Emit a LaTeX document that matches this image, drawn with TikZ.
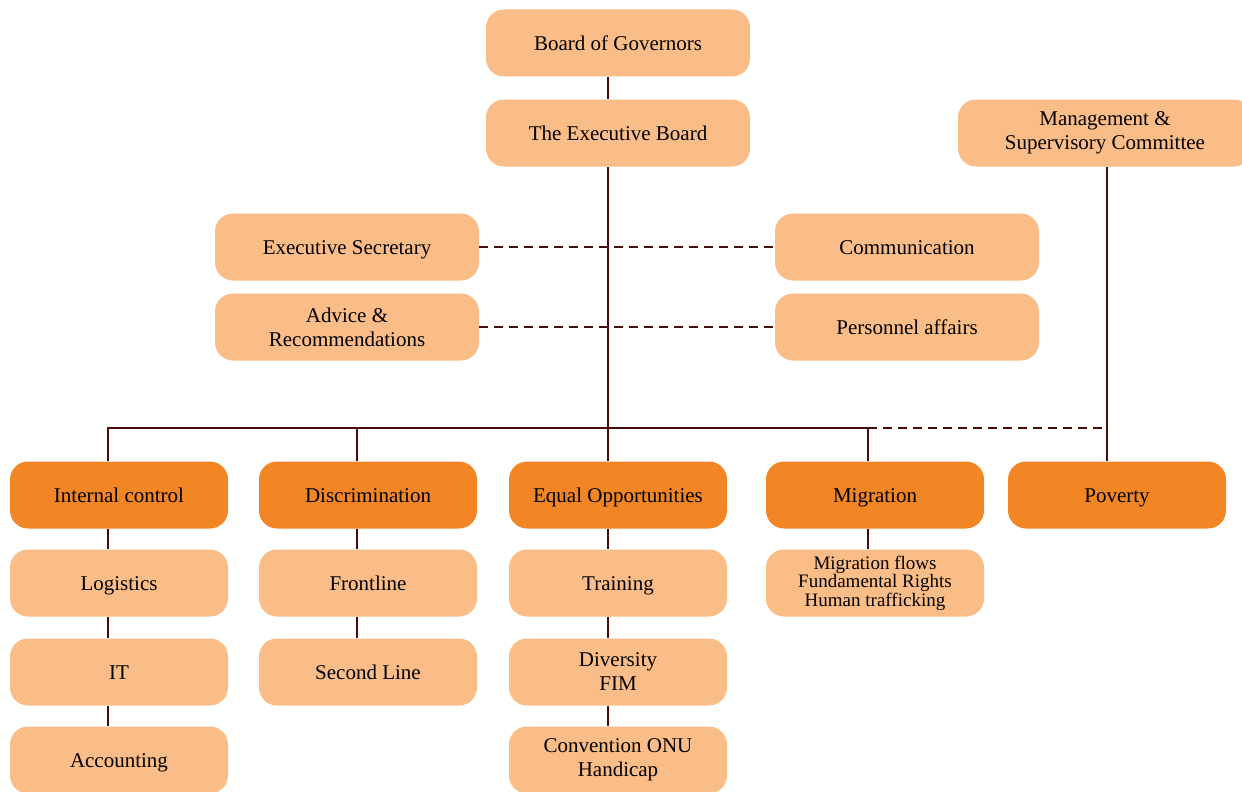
\documentclass[tikz,border=0pt]{standalone}
\usepackage{fontspec}
\setmainfont{Liberation Serif}
\definecolor{lightor}{HTML}{FBBD87}
\definecolor{darkor}{HTML}{F28524}
\definecolor{linecol}{HTML}{4A0B0B}
\begin{document}
\begin{tikzpicture}[x=1pt,y=-1pt,
  box/.style={rectangle, rounded corners=18pt, fill=lightor, minimum width=264pt, minimum height=67pt, align=center, inner sep=0pt, font=\fontsize{21}{24}\selectfont},
  sl/.style={text height=15pt, text depth=0pt},
  sbox/.style={box, minimum width=218pt},
  dbox/.style={sbox, fill=darkor},
  conn/.style={draw=linecol, line width=2.6pt},
  dconn/.style={conn, dash pattern=on 9pt off 6pt}]
\useasboundingbox (0,0) rectangle (1242,792);
% top
\node[box, sl] (bog) at (618,43) {Board of Governors};
\node[box, sl] (eb) at (618,133) {The Executive Board};
\node[box, minimum width=294pt] (msc) at (1105,133) {Management \&\\Supervisory Committee};
\node[box, sl] (es) at (347,247) {Executive Secretary};
\node[box] (adv) at (347,327) {Advice \&\\Recommendations};
\node[box, sl] (com) at (907,247) {Communication};
\node[box, sl] (pers) at (907,327) {Personnel affairs};
% dark row
\node[dbox, sl] (ic) at (119,495) {Internal control};
\node[dbox, sl] (dis) at (368,495) {Discrimination};
\node[dbox, sl] (eq) at (618,495) {Equal Opportunities};
\node[dbox, sl] (mig) at (875,495) {Migration};
\node[dbox, sl] (pov) at (1117,495) {Poverty};
% sub rows
\node[sbox, sl] (log) at (119,583) {Logistics};
\node[sbox, sl] (it) at (119,672) {IT};
\node[sbox, sl] (acc) at (119,760) {Accounting};
\node[sbox, sl] (fro) at (368,583) {Frontline};
\node[sbox, sl] (sec) at (368,672) {Second Line};
\node[sbox, sl] (tra) at (618,583) {Training};
\node[sbox] (div) at (618,672) {Diversity\\FIM};
\node[sbox] (conv) at (618,760) {Convention ONU\\Handicap};
\node[sbox, font=\fontsize{19}{18.5}\selectfont] (msub) at (875,583) {Migration flows\\Fundamental Rights\\Human trafficking};
% bus coordinates
\coordinate (bl) at (108,428);
\coordinate (br) at (868,428);
\coordinate (bd) at (1107,428);
% connectors
\draw[conn] ([xshift=-10pt]bog.south) -- ([xshift=-10pt]eb.north);
\draw[conn] ([xshift=-10pt]eb.south) -- ([xshift=-10pt]eq.north);
\draw[conn] ([xshift=-11pt]ic.north) -- (bl) -- (br) -- ([xshift=-7pt]mig.north);
\draw[conn] ([xshift=-11pt]dis.north) -- ++(0,-34);
\draw[dconn] (br) -- (bd);
\draw[conn] ([xshift=2pt]msc.south) -- ([xshift=-10pt]pov.north);
\draw[dconn] (es.east) -- (es.east -| com.west);
\draw[dconn] (adv.east) -- (adv.east -| pers.west);
\draw[conn] ([xshift=-11pt]ic.south) -- ([xshift=-11pt]log.north);
\draw[conn] ([xshift=-11pt]log.south) -- ([xshift=-11pt]it.north);
\draw[conn] ([xshift=-11pt]it.south) -- ([xshift=-11pt]acc.north);
\draw[conn] ([xshift=-11pt]dis.south) -- ([xshift=-11pt]fro.north);
\draw[conn] ([xshift=-11pt]fro.south) -- ([xshift=-11pt]sec.north);
\draw[conn] ([xshift=-10pt]eq.south) -- ([xshift=-10pt]tra.north);
\draw[conn] ([xshift=-10pt]tra.south) -- ([xshift=-10pt]div.north);
\draw[conn] ([xshift=-10pt]div.south) -- ([xshift=-10pt]conv.north);
\draw[conn] ([xshift=-7pt]mig.south) -- ([xshift=-7pt]msub.north);
\end{tikzpicture}
\end{document}
